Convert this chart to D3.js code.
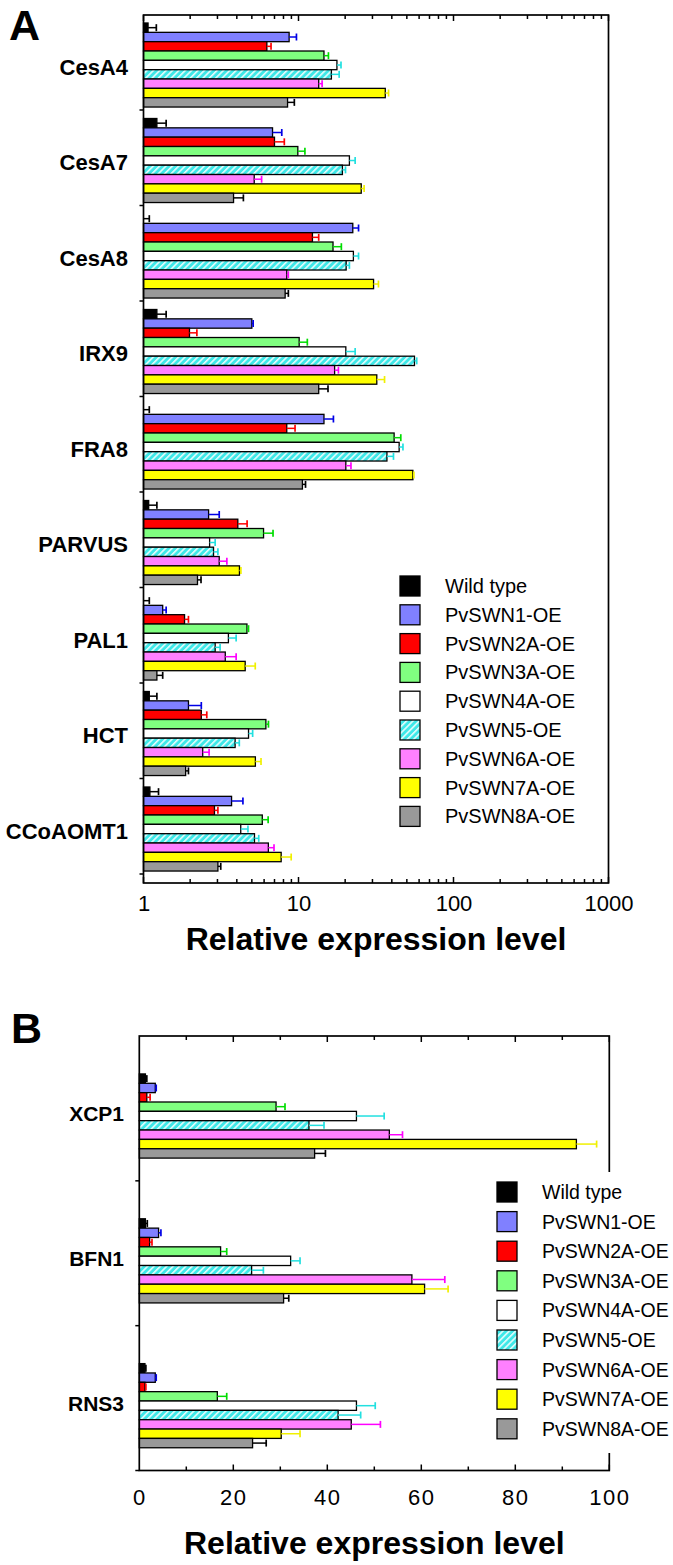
<!DOCTYPE html>
<html><head><meta charset="utf-8">
<script src="https://cdn.jsdelivr.net/npm/d3@7"></script>
<style>
body{margin:0;background:#fff}
svg{display:block}
text{font-family:"Liberation Sans",Arial,Helvetica,sans-serif;fill:#000}
</style>
</head><body>
<svg id="c" width="673" height="1565"></svg>
<script>
// ---------- series ----------
const seriesNames = ["Wild type","PvSWN1-OE","PvSWN2A-OE","PvSWN3A-OE","PvSWN4A-OE","PvSWN5-OE","PvSWN6A-OE","PvSWN7A-OE","PvSWN8A-OE"];
const fillColors = ["#000000","#8080ff","#ff0000","#80ff80","#ffffff","url(#hatch)","#ff80ff","#ffff00","#999999"];
const errColors  = ["#000000","#0000e6","#ff0000","#00dd00","#22e0e0","#22e0e0","#ff00ff","#f0f000","#000000"];

// ---------- panel A (log scale) ----------
const genesA = ["CesA4","CesA7","CesA8","IRX9","FRA8","PARVUS","PAL1","HCT","CCoAOMT1"];
const ticksA = [1,10,100,1000];
const wtA    = [1.07,1.22,1.0,1.22,1.0,1.08,1.0,1.09,1.1];
const swn1A  = [8.7,6.8,22.4,5.0,14.6,2.63,1.33,1.95,3.7];
const swn2aA = [6.25,7.0,12.3,1.98,8.4,4.06,1.84,2.36,2.87];
const swn3aA = [14.6,9.9,16.7,10.1,41.4,5.95,4.65,6.16,5.84];
const swn4aA = [17.7,21.3,22.6,20.2,44.6,2.67,3.53,4.76,4.24];
const swn5A  = [16.3,19.2,20.3,56,37.2,2.83,2.9,3.9,5.2];
const swn6aA = [13.5,5.18,8.4,17.1,20.2,3.08,3.37,2.41,6.39];
const swn7aA = [36.3,25.4,30.5,32.0,54.7,4.16,4.53,5.27,7.73];
const swn8aA = [8.5,3.81,8.2,13.5,10.6,2.23,1.22,1.87,3.02];
const wtSdA    = [0.14,0.18,0.09,0.18,0.09,0.14,0.09,0.13,0.15];
const swn1SdA  = [1.0,1.0,2.0,0.1,2.2,0.45,0.07,0.41,0.68];
const swn2aSdA = [0.4,1.1,1.2,0.23,1.1,0.6,0.11,0.2,0.15];
const swn3aSdA = [1.0,1.1,2.2,1.3,4.3,0.9,0.11,0.24,0.53];
const swn4aSdA = [1.1,1.9,1.8,3.0,2.6,0.23,0.43,0.3,0.48];
const swn5SdA  = [2.0,0.9,1.0,1.9,3.8,0.19,0.22,0.25,0.34];
const swn6aSdA = [0.7,0.6,0.2,1.0,1.6,0.37,0.59,0.24,0.56];
const swn7aSdA = [1.8,1.1,2.3,3.9,0.8,0.09,0.73,0.46,1.24];
const swn8aSdA = [0.9,0.6,0.4,2.0,0.5,0.12,0.11,0.08,0.13];

// ---------- panel B (linear scale) ----------
const genesB = ["XCP1","BFN1","RNS3"];
const ticksB = [0,20,40,60,80,100];
const wtB    = [1.3,1.3,1.2];
const swn1B  = [3.4,4.1,3.4];
const swn2aB = [1.6,2.2,1.2];
const swn3aB = [29.1,17.3,16.6];
const swn4aB = [46.2,32.2,46.2];
const swn5B  = [36.1,23.9,42.3];
const swn6aB = [53.2,58.0,45.1];
const swn7aB = [93.0,60.7,30.2];
const swn8aB = [37.3,30.7,24.1];
const wtSdB    = [0.3,0.4,0.2];
const swn1SdB  = [0.2,0.5,0.2];
const swn2aSdB = [0.7,0.5,0.2];
const swn3aSdB = [1.9,1.3,2.0];
const swn4aSdB = [5.9,2.0,4.0];
const swn5SdB  = [3.2,2.5,4.8];
const swn6aSdB = [2.8,7.0,6.2];
const swn7aSdB = [4.3,5.0,4.0];
const swn8aSdB = [2.3,1.1,2.9];

const meansA = [wtA,swn1A,swn2aA,swn3aA,swn4aA,swn5A,swn6aA,swn7aA,swn8aA];
const sdsA   = [wtSdA,swn1SdA,swn2aSdA,swn3aSdA,swn4aSdA,swn5SdA,swn6aSdA,swn7aSdA,swn8aSdA];
const meansB = [wtB,swn1B,swn2aB,swn3aB,swn4aB,swn5B,swn6aB,swn7aB,swn8aB];
const sdsB   = [wtSdB,swn1SdB,swn2aSdB,swn3aSdB,swn4aSdB,swn5SdB,swn6aSdB,swn7aSdB,swn8aSdB];

const svg = d3.select("#c");
const defs = svg.append("defs");
const pat = defs.append("pattern").attr("id","hatch").attr("patternUnits","userSpaceOnUse")
  .attr("width",4.5).attr("height",4.5).attr("patternTransform","rotate(45)");
pat.append("rect").attr("width",4.5).attr("height",4.5).attr("fill","#3ee8e8");
pat.append("line").attr("x1",0.8).attr("y1",0).attr("x2",0.8).attr("y2",4.5)
  .attr("stroke","#fff").attr("stroke-width",1.4);

function drawPanel(cfg){
  const g = svg.append("g");
  const x = cfg.x;
  const y = d3.scaleBand().domain(cfg.genes).range(cfg.bandRange).padding(0);
  const inner = d3.scaleBand().domain(d3.range(seriesNames.length))
    .range([y.bandwidth()*cfg.innerFrom, y.bandwidth()*cfg.innerTo]).padding(0);
  const x0 = x(cfg.base);
  const bh = inner.bandwidth();

  // bars
  cfg.genes.forEach((gene,gi)=>{
    seriesNames.forEach((s,si)=>{
      const v = cfg.means[si][gi];
      const yy = y(gene)+inner(si);
      const w = x(v)-x0;
      if (w>0.2){
        g.append("rect").attr("x",x0).attr("y",yy).attr("width",w).attr("height",bh)
          .attr("fill",fillColors[si]).attr("stroke","#000").attr("stroke-width",1.3);
      }
    });
  });
  // error bars
  cfg.genes.forEach((gene,gi)=>{
    seriesNames.forEach((s,si)=>{
      const v = cfg.means[si][gi], sd = cfg.sds[si][gi];
      const yc = y(gene)+inner(si)+bh/2;
      const xa = x(v), xb = x(v+sd);
      g.append("line").attr("x1",xa).attr("x2",xb).attr("y1",yc).attr("y2",yc)
        .attr("stroke",errColors[si]).attr("stroke-width",1.5);
      g.append("line").attr("x1",xb).attr("x2",xb).attr("y1",yc-3.5).attr("y2",yc+3.5)
        .attr("stroke",errColors[si]).attr("stroke-width",1.7);
    });
  });

  // frame
  const [xl,xr] = x.range();
  g.append("rect").attr("x",xl).attr("y",cfg.top).attr("width",xr-xl).attr("height",cfg.bottom-cfg.top)
    .attr("fill","none").attr("stroke","#000").attr("stroke-width",1.7);

  // top / bottom ticks (inside)
  const mk = (vals,len,yPos,dir)=>{
    vals.forEach(v=>{
      g.append("line").attr("x1",x(v)).attr("x2",x(v)).attr("y1",yPos).attr("y2",yPos+dir*len)
        .attr("stroke","#000").attr("stroke-width",1.5);
    });
  };
  mk(cfg.minor,4,cfg.top,1); mk(cfg.major,6,cfg.top,1);
  mk(cfg.minor,4,cfg.bottom,-1); mk(cfg.major,6,cfg.bottom,-1);

  // left boundary ticks (outside)
  const bounds = cfg.genes.slice(1).map(d=>y(d)).concat([y.range()[1]]);
  bounds.forEach(b=>{
    g.append("line").attr("x1",xl).attr("x2",xl-4).attr("y1",b).attr("y2",b)
      .attr("stroke","#000").attr("stroke-width",1.5);
  });

  // category labels
  cfg.genes.forEach(gene=>{
    g.append("text").attr("x",cfg.labelX).attr("y",y(gene)+y.bandwidth()/2+cfg.labelDy)
      .attr("text-anchor","end").attr("dominant-baseline","central")
      .attr("font-weight","bold").attr("font-size",cfg.labelSize).text(gene);
  });

  // tick labels
  const ax = d3.axisBottom(x).tickValues(cfg.labels).tickSize(0).tickPadding(0)
    .tickFormat(d3.format("d"));
  const axg = g.append("g").attr("transform",`translate(0,${cfg.tickLabelY})`).call(ax);
  axg.select(".domain").remove();
  axg.selectAll("text").attr("font-size",cfg.tickSize).attr("dy",null)
    .attr("dominant-baseline","central").attr("letter-spacing",cfg.tickSpacing)
    .attr("font-family",'"Liberation Sans",Arial,sans-serif').attr("fill","#000");

  // axis title
  g.append("text").attr("x",(xl+xr)/2).attr("y",cfg.titleY).attr("text-anchor","middle")
    .attr("font-weight","bold").attr("font-size",32).text("Relative expression level");

  // panel letter
  g.append("text").attr("x",cfg.letterX).attr("y",cfg.letterY).attr("font-weight","bold")
    .attr("font-size",43).text(cfg.letter);

  // legend
  const lg = g.append("g");
  if (cfg.legendBg){
    lg.append("rect").attr("x",cfg.legendBg[0]).attr("y",cfg.legendBg[1])
      .attr("width",cfg.legendBg[2]).attr("height",cfg.legendBg[3]).attr("fill","#fff");
  }
  seriesNames.forEach((s,si)=>{
    const cy = cfg.legendY + si*cfg.legendStep;
    lg.append("rect").attr("x",cfg.legendX).attr("y",cy-cfg.sw/2).attr("width",cfg.sw).attr("height",cfg.sw)
      .attr("fill",fillColors[si]).attr("stroke","#000").attr("stroke-width",1.3);
    lg.append("text").attr("x",cfg.legendTextX).attr("y",cy).attr("dominant-baseline","central")
      .attr("font-size",cfg.legendFont).text(s);
  });
}

// Panel A
const xA = d3.scaleLog().domain([1,1000]).range([143.5,608.5]);
const allLogTicks = xA.ticks();
drawPanel({
  x:xA, base:1, genes:genesA, means:meansA, sds:sdsA,
  bandRange:[14.5,874], innerFrom:0.089, innerTo:0.969,
  top:15, bottom:883,
  major:ticksA, minor:allLogTicks.filter(t=>!ticksA.includes(t)), labels:ticksA,
  labelX:128, labelDy:5, labelSize:22,
  tickLabelY:903, tickSize:22, tickSpacing:0,
  titleY:950, letter:"A", letterX:9, letterY:40,
  legendX:400, legendY:586, legendStep:28.8, sw:20, legendTextX:445, legendFont:20, legendBg:null
});

// Panel B
const xB = d3.scaleLinear().domain([0,100]).range([139.3,609.3]);
const tenTicks = d3.range(10,101,10);
drawPanel({
  x:xB, base:0, genes:genesB, means:meansB, sds:sdsB,
  bandRange:[1036,1470.5], innerFrom:0.262, innerTo:0.843,
  top:1036, bottom:1470.5,
  major:ticksB.slice(1), minor:tenTicks.filter(t=>!ticksB.includes(t)), labels:ticksB,
  labelX:124, labelDy:5, labelSize:21,
  tickLabelY:1497, tickSize:22, tickSpacing:1.5,
  titleY:1554, letter:"B", letterX:11, letterY:1043,
  legendX:497, legendY:1192, legendStep:29.6, sw:20, legendTextX:542, legendFont:19.5,
  legendBg:[488,1172,185,281]
});
</script>
</body></html>
